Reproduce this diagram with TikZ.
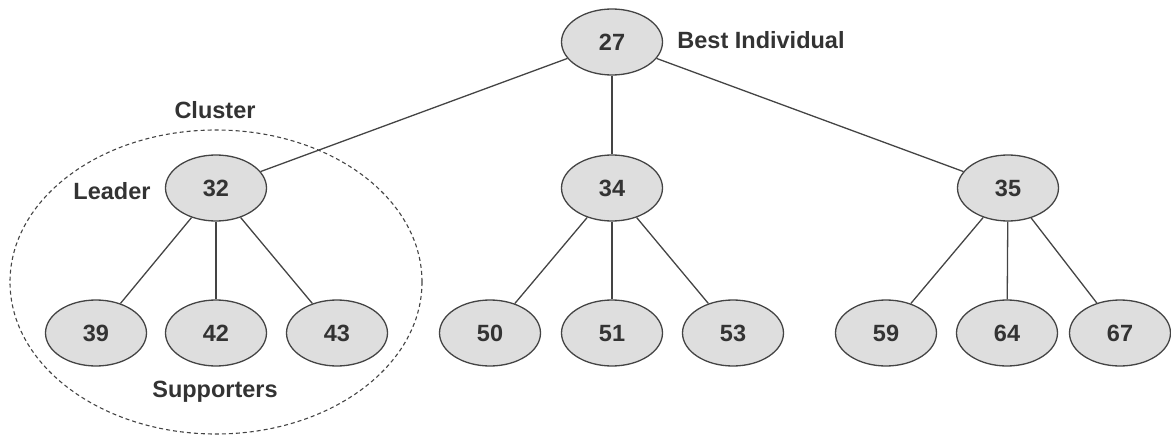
\documentclass[tikz,border=0pt]{standalone}
\usepackage{fontspec}
\setmainfont{Liberation Sans}
\usetikzlibrary{shapes.geometric}
\definecolor{ink}{HTML}{333333}
\definecolor{nodefill}{HTML}{DEDEDE}
\definecolor{edge}{HTML}{444444}
\begin{document}
\begin{tikzpicture}[x=1pt,y=-1pt,
  every node/.style={font=\fontsize{23.5}{28}\selectfont\bfseries, text=ink},
  indiv/.style={ellipse, draw=edge, line width=1.3pt, fill=nodefill, minimum width=101pt, minimum height=66pt, inner sep=0pt, text height=17pt, text depth=0pt},
  link/.style={draw=edge, line width=1.3pt},
  lbl/.style={inner sep=0pt}]
\useasboundingbox (0,0) rectangle (1171,436);
% cluster
\draw[edge, line width=1.1pt, dash pattern=on 4pt off 3pt] (216,282) ellipse [x radius=206, y radius=152];
\node[indiv] (n27) at (612,42) {27};
\node[indiv] (n32) at (216,188) {32};
\node[indiv] (n34) at (612,188) {34};
\node[indiv] (n35) at (1008,188) {35};
\node[indiv] (n39) at (96,333) {39};
\node[indiv] (n42) at (216,333) {42};
\node[indiv] (n43) at (337,333) {43};
\node[indiv] (n50) at (490,333) {50};
\node[indiv] (n51) at (612,333) {51};
\node[indiv] (n53) at (733,333) {53};
\node[indiv] (n59) at (886,333) {59};
\node[indiv] (n64) at (1007,333) {64};
\node[indiv] (n67) at (1120,333) {67};
\foreach \a/\b in {n27/n32,n27/n34,n27/n35,n32/n39,n32/n42,n32/n43,n34/n50,n34/n51,n34/n53,n35/n59,n35/n64,n35/n67}
  \draw[link] (\a) -- (\b);
\node[lbl] (best) at (761,40) {Best Individual};
\node[lbl] (cluster) at (215,110) {Cluster};
\node[lbl] (leader) at (112,191) {Leader};
\node[lbl] (supp) at (215,392) {Supporters};
\end{tikzpicture}
\end{document}
